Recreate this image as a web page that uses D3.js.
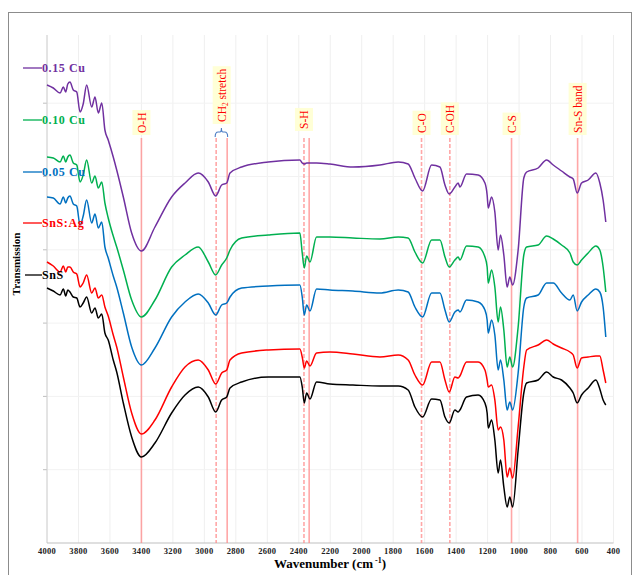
<!DOCTYPE html>
<html><head><meta charset="utf-8">
<script src="https://cdn.jsdelivr.net/npm/d3@7"></script>
<style>
html,body{margin:0;padding:0;background:#fff;}
svg{display:block;}
</style></head>
<body>
<svg id="chart" width="639" height="575"></svg>
<script>
// ---- DATA ----
const wavenumbers = [4000,3960,3917,3896,3881,3868,3854,3833,3811,3790,3770,3748,3716,3695,3674,3652,3632,3611,3579,3557,3515,3462,3400,3314,3208,3123,3039,2975,2928,2890,2858,2837,2763,2594,2393,2378,2365,2350,2329,2287,2202,2056,1884,1768,1705,1662,1613,1556,1503,1471,1444,1408,1387,1376,1334,1260,1217,1203,1196,1175,1154,1133,1118,1097,1076,1059,1041,1006,970,952,879,825,783,730,677,656,631,603,561,512,487,466,449];

const cu015 = [458,455,450,456,451,459,461,453,451,431,439,458,436,446,430,440,413,403,386,373,346,310,292,316,346,360,370,361,347,358,360,370,376,381,383,380,379,380,380,380,379,376,378,381,379,365,352,378,376,358,349,356,360,356,369,368,360,348,335,346,331,293,308,288,256,266,258,293,365,371,375,383,378,372,366,364,350,360,363,370,360,343,321];
const cu010 = [386,385,381,387,381,386,388,380,378,361,368,383,360,367,355,361,340,325,307,296,273,243,226,243,276,288,296,281,268,278,285,293,305,308,310,290,275,287,281,306,306,305,304,306,305,291,280,303,303,286,276,283,286,283,297,296,286,276,260,273,256,221,236,213,176,186,176,216,288,296,298,307,304,298,290,281,278,283,290,297,293,276,251];
const cu005 = [346,345,339,346,340,345,347,339,337,318,327,343,320,329,315,321,296,285,267,256,230,196,178,195,226,241,249,240,228,238,240,246,255,257,258,246,228,238,232,254,253,252,250,253,251,236,226,250,250,233,221,231,233,231,243,241,233,223,210,223,208,173,183,163,133,141,133,170,236,245,248,260,260,250,243,248,232,241,248,254,251,236,206];
const snsAg = [281,277,271,277,271,276,276,271,269,256,260,268,250,255,245,248,236,227,208,196,166,130,109,123,156,176,183,173,159,170,173,183,190,193,194,186,175,182,177,190,191,189,186,188,183,168,158,181,181,163,151,166,165,167,181,181,173,163,156,158,143,113,116,103,66,75,65,116,176,193,198,203,199,195,191,188,175,185,186,187,187,173,160];
const sns = [255,252,248,254,247,253,251,246,245,236,240,246,230,235,225,229,210,203,183,171,140,106,86,100,130,148,156,146,131,143,146,155,161,166,166,156,140,150,144,161,159,158,157,157,153,136,126,144,143,126,120,133,131,133,146,148,140,130,115,123,103,70,83,56,36,46,36,93,150,160,163,171,166,163,155,150,140,148,155,163,154,143,138];

const seriesNames = ["0.15 Cu","0.10 Cu","0.05 Cu","SnS:Ag","SnS"];
const seriesColors = ["#7030A0","#00B050","#0070C0","#FF0000","#000000"];
const seriesValues = [cu015, cu010, cu005, snsAg, sns];

const xTicks = [4000,3800,3600,3400,3200,3000,2800,2600,2400,2200,2000,1800,1600,1400,1200,1000,800,600,400];
const yGrid = [73.3,146.6,219.9,293.2,366.5,439.8];

// band annotations: label, line positions, dashed flags
const bandLabels = ["O-H","CH2 stretch","S-H","C-O","C-OH","C-S","Sn-S band"];
const bandLines = [[3400],[2925,2855],[2367,2334],[1620],[1440],[1048],[628]];
const bandDashed = [[false],[true,false],[true,false],[true],[true],[false],[false]];
const labelCenters = [3400,2890,2367,1620,1440,1048,628];

// ---- CHART ----
const svg = d3.select("#chart");
const serif = "'Liberation Serif','Times New Roman',serif";

const x = d3.scaleLinear().domain([4000,400]).range([47,613.5]);
const y = d3.scaleLinear().domain([0,508]).range([543,35]);

// outer frame
svg.append("rect").attr("x",8.5).attr("y",12.5).attr("width",623).attr("height",620)
  .attr("fill","none").attr("stroke","#8c8c8c").attr("stroke-width",1);

// grid
svg.append("g").selectAll("line").data(xTicks).join("line")
  .attr("x1",d=>x(d)).attr("x2",d=>x(d)).attr("y1",y(508)).attr("y2",y(0))
  .attr("stroke","#efefef").attr("stroke-width",1);
svg.append("g").selectAll("line").data(yGrid).join("line")
  .attr("x1",x(4000)).attr("x2",x(400)).attr("y1",d=>y(d)).attr("y2",d=>y(d))
  .attr("stroke","#f2f2f2").attr("stroke-width",1);
// y tick marks
svg.append("g").selectAll("line").data(yGrid).join("line")
  .attr("x1",x(4000)-4).attr("x2",x(4000)).attr("y1",d=>y(d)).attr("y2",d=>y(d))
  .attr("stroke","#bfbfbf").attr("stroke-width",1);

// axes lines
svg.append("line").attr("x1",x(4000)).attr("x2",x(4000)).attr("y1",y(508)).attr("y2",y(0))
  .attr("stroke","#d0d0d0").attr("stroke-width",1);
svg.append("line").attr("x1",x(4000)).attr("x2",x(400)).attr("y1",y(0)).attr("y2",y(0))
  .attr("stroke","#bfbfbf").attr("stroke-width",1.2);

// x tick labels
svg.append("g").selectAll("text").data(xTicks).join("text")
  .attr("x",d=>x(d)).attr("y",553.5).attr("text-anchor","middle")
  .attr("font-family",serif).attr("font-weight","bold").attr("font-size",8.5)
  .attr("letter-spacing",0.3).attr("fill","#222").text(d=>d);

// x axis title
const xt = svg.append("text").attr("x",330).attr("y",568).attr("text-anchor","middle")
  .attr("font-family",serif).attr("font-weight","bold").attr("font-size",13).attr("fill","#000");
xt.append("tspan").text("Wavenumber (cm");
xt.append("tspan").attr("dy",-5).attr("font-size",8).text(" -1");
xt.append("tspan").attr("dy",5).text(")");

// y axis title
svg.append("text").attr("transform","translate(20,264) rotate(-90)").attr("text-anchor","middle")
  .attr("font-family",serif).attr("font-weight","bold").attr("font-size",11).attr("fill","#000")
  .text("Transmission");

// band lines
bandLines.forEach((arr,i)=>{
  arr.forEach((wn,j)=>{
    svg.append("line").attr("x1",x(wn)).attr("x2",x(wn)).attr("y1",138).attr("y2",y(0))
      .attr("stroke","#ff8a8a").attr("stroke-opacity",0.75).attr("stroke-width",1.6)
      .attr("stroke-dasharray",bandDashed[i][j]?"4,2":null);
  });
});

// brace for CH2
{
  const a = x(2925)-1, b = x(2855)+0.5, m = (a+b)/2;
  svg.append("path")
    .attr("d",`M${a},137 Q${a},132 ${a+3},132 L${m-1.5},132 Q${m},132 ${m},128 Q${m},132 ${m+1.5},132 L${b-3},132 Q${b},132 ${b},137`)
    .attr("fill","none").attr("stroke","#4a7cc4").attr("stroke-width",1.1);
}

// spectra
const line = d3.line().x(d=>x(d[0])).y(d=>y(d[1])).curve(d3.curveMonotoneX);
seriesValues.forEach((vals,i)=>{
  const pts = wavenumbers.map((w,k)=>[w,vals[k]]);
  svg.append("path").datum(pts).attr("d",line)
    .attr("fill","none").attr("stroke",seriesColors[i]).attr("stroke-width",1.5)
    .attr("stroke-linejoin","round");
});

// band labels
const labelBottoms = [133,122,129,133,133,133,133];
bandLabels.forEach((lab,i)=>{
  const cx = i===1 ? (x(2925)+x(2855))/2 : x(labelCenters[i]);
  const by = labelBottoms[i];
  const g = svg.append("g");
  const t = g.append("text").attr("transform",`translate(${cx+0.5},${by}) rotate(-90)`)
    .attr("text-anchor","start").attr("dominant-baseline","central")
    .attr("font-family",serif).attr("font-size",11.5).attr("fill","#ff0000");
  if(lab==="CH2 stretch"){
    t.append("tspan").text("CH");
    t.append("tspan").attr("font-size",7.5).attr("dy",3).text("2");
    t.append("tspan").attr("dy",-3).text(" stretch");
  } else t.text(lab);
  const len = t.node().getComputedTextLength();
  g.insert("rect","text").attr("x",cx-9).attr("y",by-len-2.5).attr("width",18).attr("height",len+4.5)
    .attr("fill","#ffffd6");
});

// legend labels
seriesNames.forEach((n,i)=>{
  const ly = [68,120,172,223,275][i];
  svg.append("line").attr("x1",i===4?25:23).attr("x2",42).attr("y1",ly).attr("y2",ly)
    .attr("stroke",seriesColors[i]).attr("stroke-width",1.3);
  svg.append("text").attr("x",42).attr("y",ly).attr("dominant-baseline","central")
    .attr("font-family",serif).attr("font-weight","bold").attr("font-size",12)
    .attr("letter-spacing",0.6).attr("fill",seriesColors[i]).text(n);
});
</script>
</body></html>
